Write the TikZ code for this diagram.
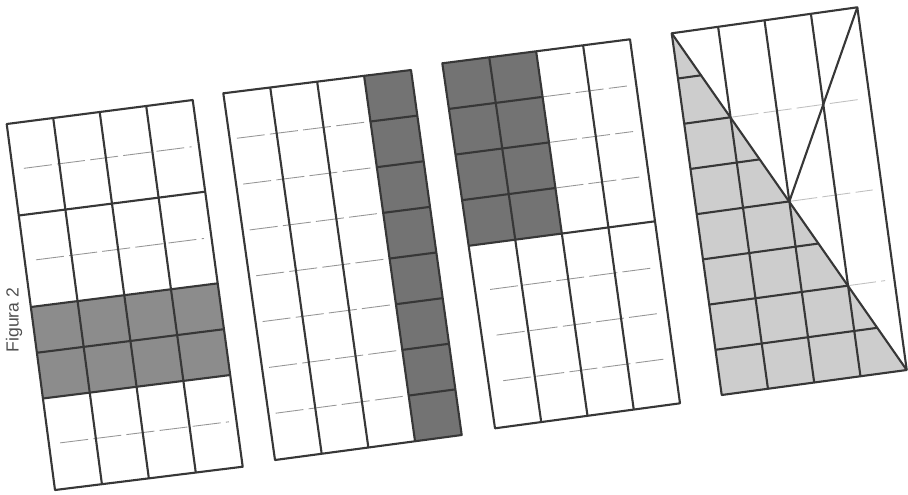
\documentclass[tikz,border=0pt]{standalone}
\usepackage{fontspec}
\setsansfont{Liberation Sans}
\usepackage{tikz}
\usetikzlibrary{calc}
\definecolor{FIGline}{RGB}{55,55,55}
\definecolor{FIGthin}{RGB}{150,150,150}
\definecolor{FIGdark}{RGB}{115,115,115}
\definecolor{FIGmid}{RGB}{140,140,140}
\definecolor{FIGlight}{RGB}{205,205,205}
\definecolor{FIGtext}{RGB}{80,80,80}
\tikzstyle{gline} = [draw=FIGline, line width=1.2pt, line join=round]
\tikzstyle{gthin} = [draw=FIGthin, line width=0.5pt, dash pattern=on 16pt off 3pt]
\tikzstyle{gfaint} = [gthin, draw=FIGthin!60]
% grid of 4 x 8 cells between four corners: (#1-col-row)
\newcommand{\gridframe}[5]{%
  \foreach \rw in {0,...,8} {
    \coordinate (#1-L\rw) at ($#2!\rw/8!#5$);
    \coordinate (#1-R\rw) at ($#3!\rw/8!#4$);
    \foreach \cl in {0,...,4}
      \coordinate (#1-\cl-\rw) at ($(#1-L\rw)!\cl/4!(#1-R\rw)$);
  }
}

\begin{document}
\begin{tikzpicture}[x=0.02cm, y=-0.02cm]
  \useasboundingbox (0,0) rectangle (908,494);

  \gridframe{G1}{(6.7,124)}{(192.7,100)}{(242.7,466.7)}{(55,490)}
  \gridframe{G2}{(223.3,93.3)}{(411,70)}{(461.7,435)}{(275,460)}
  \gridframe{G3}{(442.3,63.3)}{(630,39.3)}{(680,403.3)}{(495,428.3)}
  \gridframe{G4}{(671.7,33.3)}{(857.3,7.3)}{(906.7,370)}{(721.7,395)}

  \node[rotate=90, text=FIGtext, font=\sffamily] (title) at (14,320) {Figura 2};

  % panel 1
  \fill[FIGmid] (G1-0-4) -- (G1-4-4) -- (G1-4-6) -- (G1-0-6) -- cycle;
  \foreach \rw in {1,3,7}
    \draw[gthin] ($(G1-0-\rw)!.06!(G1-4-\rw)$) -- ($(G1-0-\rw)!.96!(G1-4-\rw)$);
  \foreach \rw in {2,4,5,6}
    \draw[gline] (G1-0-\rw) -- (G1-4-\rw);
  \foreach \cl in {1,2,3}
    \draw[gline] (G1-\cl-0) -- (G1-\cl-8);
  \draw[gline] (G1-0-0) -- (G1-4-0) -- (G1-4-8) -- (G1-0-8) -- cycle;

  % panel 2
  \fill[FIGdark] (G2-3-0) -- (G2-4-0) -- (G2-4-8) -- (G2-3-8) -- cycle;
  \foreach \rw in {1,...,7} {
    \draw[gthin] ($(G2-0-\rw)!.05!(G2-3-\rw)$) -- (G2-3-\rw);
    \draw[gline] (G2-3-\rw) -- (G2-4-\rw);
  }
  \foreach \cl in {1,2,3}
    \draw[gline] (G2-\cl-0) -- (G2-\cl-8);
  \draw[gline] (G2-0-0) -- (G2-4-0) -- (G2-4-8) -- (G2-0-8) -- cycle;

  % panel 3
  \fill[FIGdark] (G3-0-0) -- (G3-2-0) -- (G3-2-4) -- (G3-0-4) -- cycle;
  \foreach \rw in {1,2,3} {
    \draw[gline] (G3-0-\rw) -- (G3-2-\rw);
    \draw[gthin] (G3-2-\rw) -- ($(G3-2-\rw)!.9!(G3-4-\rw)$);
  }
  \foreach \rw in {5,6,7}
    \draw[gthin] ($(G3-0-\rw)!.08!(G3-4-\rw)$) -- ($(G3-0-\rw)!.95!(G3-4-\rw)$);
  \draw[gline] (G3-0-4) -- (G3-4-4);
  \foreach \cl in {1,2,3}
    \draw[gline] (G3-\cl-0) -- (G3-\cl-8);
  \draw[gline] (G3-0-0) -- (G3-4-0) -- (G3-4-8) -- (G3-0-8) -- cycle;

  % panel 4
  \fill[FIGlight] (G4-0-0) -- (G4-4-8) -- (G4-0-8) -- cycle;
  \foreach \rw in {1,...,7}
    \draw[gline] (G4-0-\rw) -- ($(G4-0-\rw)!\rw/8!(G4-4-\rw)$);
  \foreach \rw in {2,4,6}
    \draw[gfaint] ($(G4-0-\rw)!\rw/8!(G4-4-\rw)$) -- ($(G4-0-\rw)!.95!(G4-4-\rw)$);
  \foreach \cl in {1,2,3}
    \draw[gline] (G4-\cl-0) -- (G4-\cl-8);
  \draw[gline] (G4-0-0) -- (G4-4-8);
  \draw[gline] (G4-4-0) -- (G4-2-4);
  \draw[gline] (G4-0-0) -- (G4-4-0) -- (G4-4-8) -- (G4-0-8) -- cycle;
\end{tikzpicture}
\end{document}
